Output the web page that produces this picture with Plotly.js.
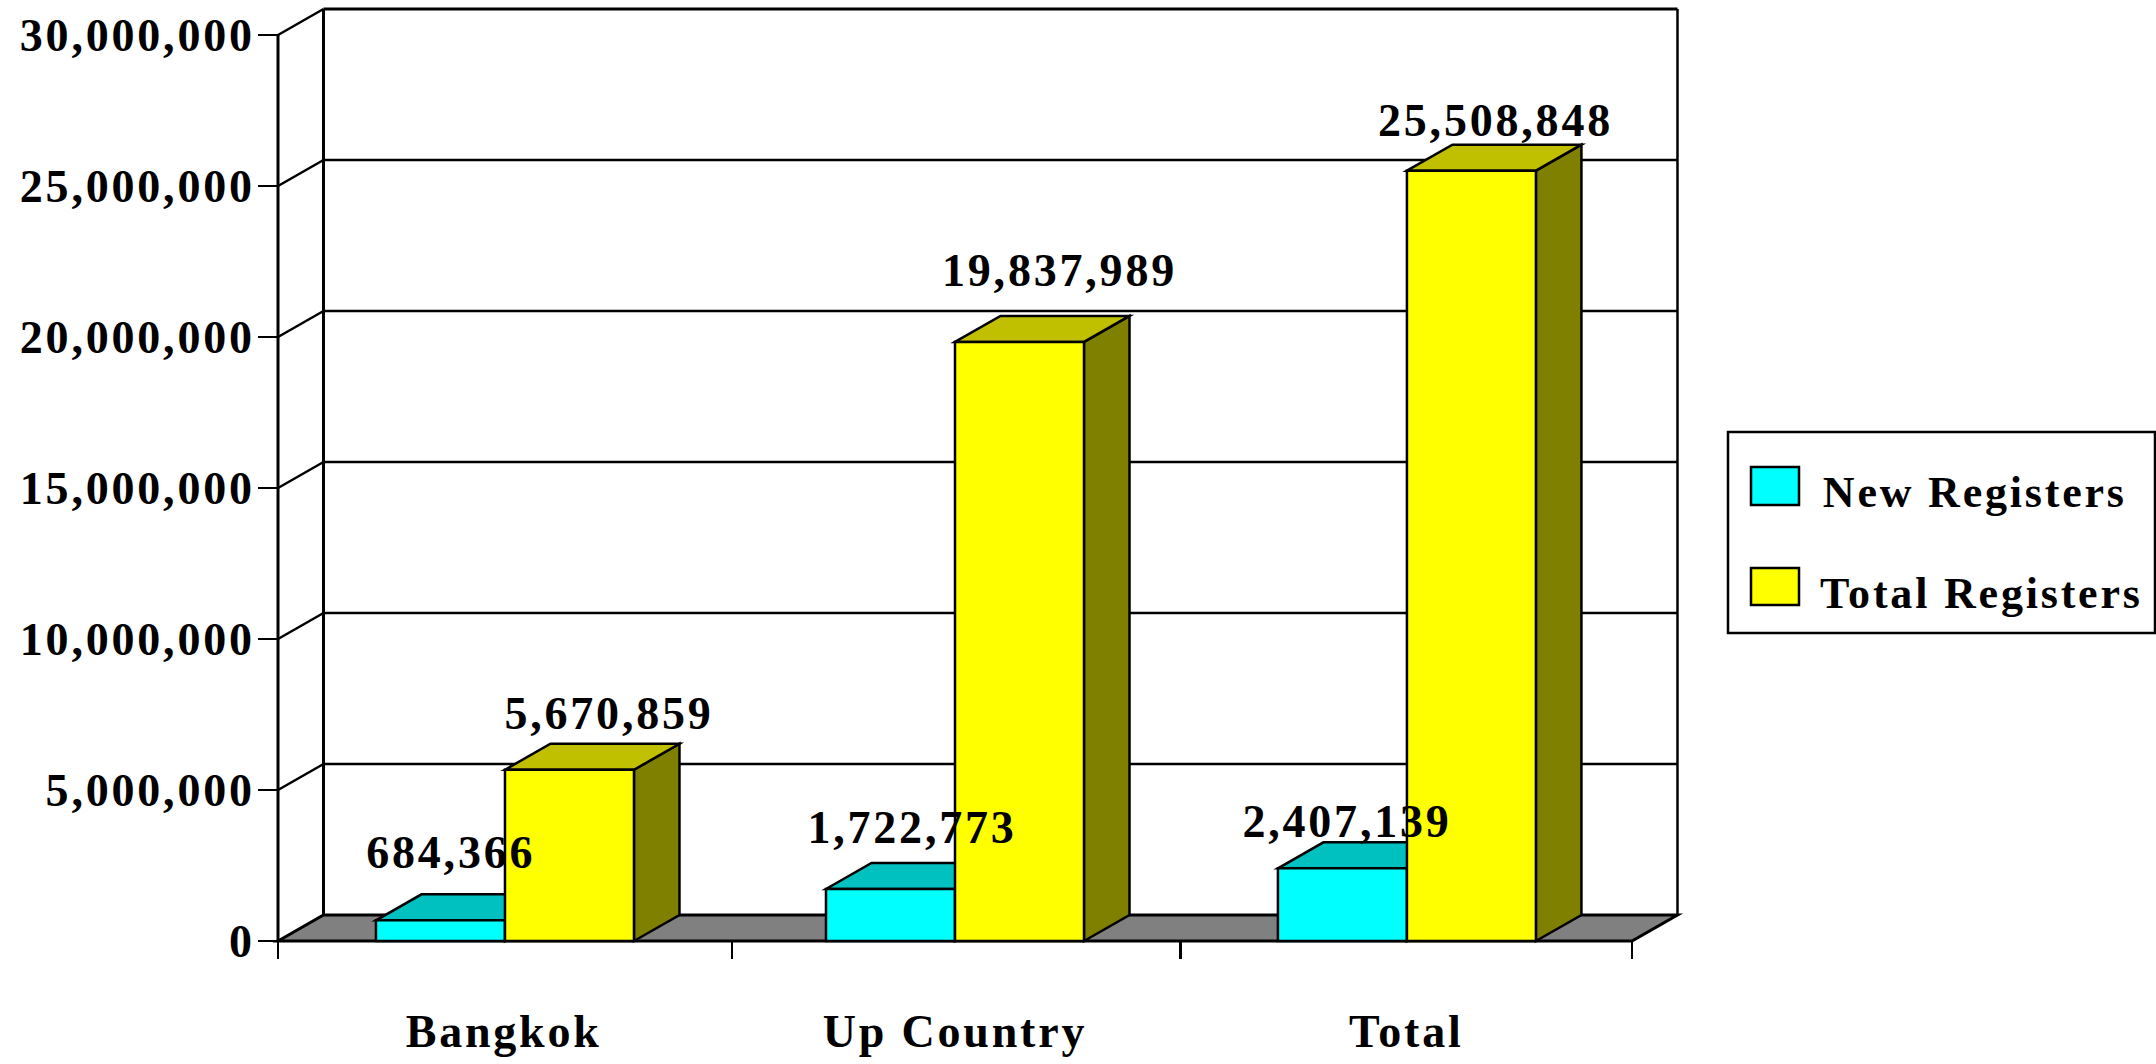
<!DOCTYPE html>
<html>
<head>
<meta charset="utf-8">
<script src="https://cdn.plot.ly/plotly-3.0.1.min.js"></script>
<style>
html,body{margin:0;padding:0;background:#fff;overflow:hidden}
#chart{width:2156px;height:1064px}
#chart text{letter-spacing:2.8px}
</style>
</head>
<body>
<div id="chart"></div>
<script>
const categories = ["Bangkok", "Up Country", "Total"];
const newRegisters = [684366, 1722773, 2407139];
const totalRegisters = [5670859, 19837989, 25508848];
const yTicks = [0, 5000000, 10000000, 15000000, 20000000, 25000000, 30000000];
const seriesNames = ["New Registers", "Total Registers"];
const seriesColors = ["#00FFFF", "#FFFF00"];

// pixel-side layout constants
const W = 2156, H = 1064;
const plotL = 270, plotR = 1690, plotT = 4, plotB = 950;
const x0Px = 278, y0Px = 941;
const pxPerCat = 451.33, pxPerUnit = 151 / 5000000;
const depthPxX = 45.5, depthPxY = 26;
const barFrac = 129 / 451.33;
const groupNudge = [1.3 / 451.33, 0, 0.6 / 451.33];
const FONT = {family: "Liberation Serif, Times New Roman, serif", size: 46, color: "#000", weight: 700};
const LEGEND_FONT = Object.assign({}, FONT, {size: 44});
const black = "#000";

const dx = depthPxX / pxPerCat, dy = depthPxY / pxPerUnit;
const xMax = 3;
const yTop = yTicks[yTicks.length - 1];
const centers = categories.map((_, i) => i + 0.5);
const newX = centers.map((c, i) => c + groupNudge[i] - barFrac / 2);
const totX = centers.map((c, i) => c + groupNudge[i] + barFrac / 2);
const paperX = px => (px - plotL) / (plotR - plotL);
const paperY = px => (plotB - px) / (plotB - plotT);

function poly(pts, fill, w) {
  return {type: "path", layer: "below", xref: "x", yref: "y",
    path: "M" + pts.map(p => p[0] + "," + p[1]).join("L") + "Z",
    fillcolor: fill, line: {color: black, width: w || 2.5}};
}
function seg(x1, y1, x2, y2, w) {
  return {type: "line", layer: "below", xref: "x", yref: "y", x0: x1, y0: y1, x1: x2, y1: y2,
    line: {color: black, width: w || 2.5}};
}
function box3d(cx, v, top, side) {
  const l = cx - barFrac / 2, r = cx + barFrac / 2;
  return [
    poly([[r, 0], [r + dx, dy], [r + dx, v + dy], [r, v]], side),
    poly([[l, v], [l + dx, v + dy], [r + dx, v + dy], [r, v]], top)
  ];
}
function paperRect(x0, x1, y0, y1, fill) {
  return {type: "rect", layer: "below", xref: "paper", yref: "paper",
    x0: paperX(x0), x1: paperX(x1), y0: paperY(y1), y1: paperY(y0),
    fillcolor: fill, line: {color: black, width: 2.5}};
}

const shapes = [];
// floor
shapes.push(poly([[0, 0], [dx, dy], [xMax + dx, dy], [xMax, 0]], "#808080", 3));
// walls and gridlines
yTicks.slice(1).forEach(t => {
  shapes.push(seg(0, t, dx, t + dy));
  shapes.push(seg(dx, t + dy, xMax + dx, t + dy, t === yTop ? 3 : 2.5));
});
shapes.push(seg(dx, dy, dx, yTop + dy, 3));
shapes.push(seg(xMax + dx, dy, xMax + dx, yTop + dy, 2.5));
shapes.push(seg(0, 0, 0, yTop, 3));
// 3D faces behind the bars
newX.forEach((c, i) => shapes.push(...box3d(c, newRegisters[i], "#00C0C0", "#008080")));
totX.forEach((c, i) => shapes.push(...box3d(c, totalRegisters[i], "#C0C000", "#808000")));
// legend
shapes.push(paperRect(1728, 2155, 432, 633, "#fff"));
shapes.push(paperRect(1751, 1799, 467, 505, seriesColors[0]));
shapes.push(paperRect(1751, 1799, 568, 605, seriesColors[1]));

const barLine = {color: black, width: 2.5};
const traces = [
  {type: "bar", name: seriesNames[0], x: newX, y: newRegisters, width: barFrac,
   marker: {color: seriesColors[0], line: barLine}, hoverinfo: "x+y"},
  {type: "bar", name: seriesNames[1], x: totX, y: totalRegisters, width: barFrac,
   marker: {color: seriesColors[1], line: barLine}, hoverinfo: "x+y"}
];

// label nudges from the bar's top-front centre, px
const newShift = [[11, 68], [22, 61], [5, 47]];
const totShift = [[40, 56], [40, 71], [24, 50]];
const fmt = v => v.toLocaleString("en-US");
function labels(xs, vs, shift) {
  return xs.map((x, i) => ({x: x, y: vs[i], xref: "x", yref: "y", text: fmt(vs[i]),
    showarrow: false, xanchor: "center", yanchor: "middle",
    xshift: shift[i][0], yshift: shift[i][1], font: FONT}));
}
const legendLabels = seriesNames.map((n, i) => ({
  xref: "paper", yref: "paper", x: paperX(1839), y: paperY([492, 593][i]), text: n,
  showarrow: false, xanchor: "left", yanchor: "middle", font: LEGEND_FONT
}));

const layout = {
  width: W, height: H,
  margin: {l: plotL, r: W - plotR, t: plotT, b: H - plotB, pad: 0, autoexpand: false},
  paper_bgcolor: "#fff", plot_bgcolor: "rgba(0,0,0,0)",
  barmode: "overlay",
  showlegend: false,
  xaxis: {
    range: [(plotL - x0Px) / pxPerCat, (plotR - x0Px) / pxPerCat],
    anchor: "free", position: (plotB - y0Px) / (plotB - plotT),
    tickmode: "array", tickvals: centers, ticktext: categories,
    ticks: "", ticklabelstandoff: 59, tickfont: FONT,
    showgrid: false, zeroline: false, showline: false,
    minor: {tickmode: "array", tickvals: [0, 1.006, 2, 3], ticks: "outside", ticklen: 17, tickwidth: 2.5, tickcolor: black, showgrid: false}
  },
  yaxis: {
    range: [(y0Px - plotB) / pxPerUnit, (y0Px - plotT) / pxPerUnit],
    anchor: "free", position: (x0Px - plotL) / (plotR - plotL),
    tickmode: "array", tickvals: yTicks, ticktext: yTicks.map(fmt),
    ticks: "outside", ticklen: 20, tickwidth: 2.5, tickcolor: black, tickfont: FONT,
    ticklabelstandoff: -6,
    showgrid: false, zeroline: false, showline: false
  },
  shapes: shapes,
  annotations: labels(newX, newRegisters, newShift)
    .concat(labels(totX, totalRegisters, totShift))
    .concat(legendLabels)
};

Plotly.newPlot("chart", traces, layout, {displayModeBar: false, responsive: false, staticPlot: true});
</script>
</body>
</html>
